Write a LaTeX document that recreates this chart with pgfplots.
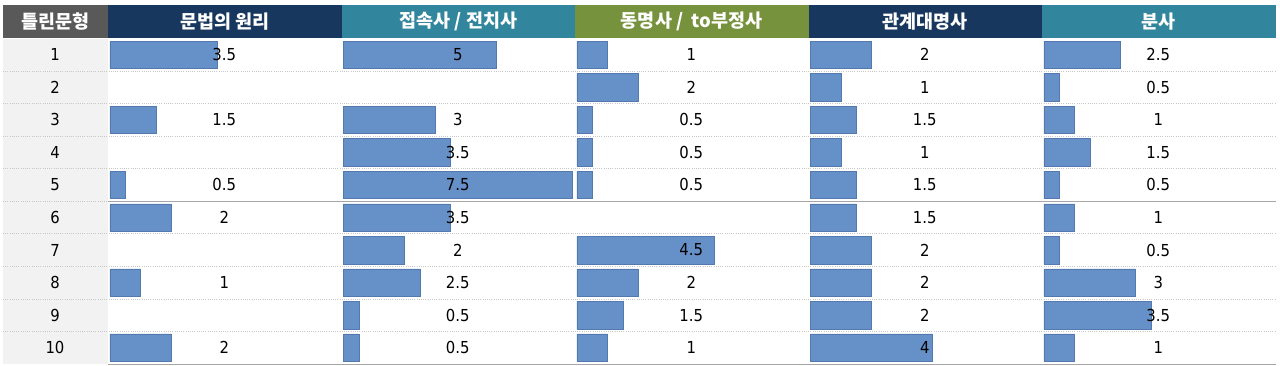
\documentclass[border=0pt]{standalone}
\usepackage{pgfplots}
\pgfplotsset{compat=1.18}
\usepackage{pgfplotstable}
\usepackage{fontspec}
\setmainfont{DejaVu Sans Condensed}
\newfontfamily\kr{Noto Sans CJK KR}
\definecolor{hgrey}{HTML}{595959}
\definecolor{hnavy}{HTML}{17375E}
\definecolor{hteal}{HTML}{31859C}
\definecolor{holive}{HTML}{76923C}
\definecolor{colgrey}{HTML}{F2F2F2}
\definecolor{barblue}{HTML}{6690C8}
\definecolor{bardraw}{HTML}{5379AE}
\definecolor{dotgrey}{HTML}{C8C8C8}
\definecolor{linegrey}{HTML}{A6A6A6}

% one table per column: row number and value (empty cells omitted)
\pgfplotstableread{
row val
1 3.5
3 1.5
5 0.5
6 2
8 1
10 2
}\colA
\pgfplotstableread{
row val
1 5
3 3
4 3.5
5 7.5
6 3.5
7 2
8 2.5
9 0.5
10 0.5
}\colB
\pgfplotstableread{
row val
1 1
2 2
3 0.5
4 0.5
5 0.5
7 4.5
8 2
9 1.5
10 1
}\colC
\pgfplotstableread{
row val
1 2
2 1
3 1.5
4 1
5 1.5
6 1.5
7 2
8 2
9 2
10 4
}\colD
\pgfplotstableread{
row val
1 2.5
2 0.5
3 1
4 1.5
5 0.5
6 1
7 0.5
8 3
9 3.5
10 1
}\colE

\pgfplotsset{
  colax/.style={anchor=north west, width=233.5pt, height=325.5pt, scale only axis,
    xmin=-0.065, xmax=7.58, ymin=0.5, ymax=10.5, y dir=reverse,
    axis line style={draw=none}, xtick=\empty, ytick=\empty, major tick length=0pt,
    clip=false, /pgf/number format/assume math mode=true},
  barsty/.style={xbar, bar width=27.5pt, fill=barblue, draw=bardraw, line width=0.5pt},
  labsty/.style={draw=none, mark=none, nodes near coords, point meta=explicit,
    every node near coord/.append style={anchor=center, text=black, font=\fontsize{16.5}{16.5}\selectfont}},
}
\newcommand{\hdr}[4]{\node[fill=#1, minimum width=#3, minimum height=32.5pt, inner sep=0pt,
  text=white, font=\kr\bfseries\fontsize{18.5}{18.5}\selectfont] at (#2,-21.25pt) {#4};}

\begin{document}
\begin{tikzpicture}
\useasboundingbox (0,0) rectangle (1280pt,-365pt);
% first column background
\fill[colgrey] (3pt,-38.5pt) rectangle (107.5pt,-364pt);
% row separators
\foreach \i in {1,...,9} {
  \pgfmathsetmacro{\yy}{-(38.5+32.55*\i)}
  \draw[dotgrey, line width=0.8pt, dash pattern=on 1pt off 1.2pt] (3pt,\yy pt) -- (1275.5pt,\yy pt);
}
\draw[linegrey, line width=1pt] (108pt,-201.25pt) -- (1275.5pt,-201.25pt);
\draw[linegrey, line width=1pt] (108pt,-364pt) -- (1275.5pt,-364pt);
% headers
\hdr{hgrey}{55.25pt}{104.5pt}{틀린문형}
\hdr{hnavy}{224.75pt}{233.5pt}{문법의 원리}
\hdr{hteal}{458.25pt}{233.5pt}{접속사 / 전치사}
\hdr{holive}{691.75pt}{233.5pt}{동명사 /\ \ to부정사}
\hdr{hnavy}{925.25pt}{233.5pt}{관계대명사}
\hdr{hteal}{1158.75pt}{233.5pt}{분사}

\begin{axis}[colax, at={(108pt,-38.5pt)}, ytick={1,...,10},
  yticklabel style={anchor=center, xshift=-53pt, font=\fontsize{16.5}{16.5}\selectfont}]
\addplot[barsty] table[x=val, y=row]{\colA};
\addplot[labsty] table[x expr=3.741, y=row, meta=val]{\colA};
\end{axis}
\begin{axis}[colax, at={(341.5pt,-38.5pt)}]
\addplot[barsty] table[x=val, y=row]{\colB};
\addplot[labsty] table[x expr=3.741, y=row, meta=val]{\colB};
\end{axis}
\begin{axis}[colax, at={(575pt,-38.5pt)}]
\addplot[barsty] table[x=val, y=row]{\colC};
\addplot[labsty] table[x expr=3.741, y=row, meta=val]{\colC};
\end{axis}
\begin{axis}[colax, at={(808.5pt,-38.5pt)}]
\addplot[barsty] table[x=val, y=row]{\colD};
\addplot[labsty] table[x expr=3.741, y=row, meta=val]{\colD};
\end{axis}
\begin{axis}[colax, at={(1042pt,-38.5pt)}]
\addplot[barsty] table[x=val, y=row]{\colE};
\addplot[labsty] table[x expr=3.741, y=row, meta=val]{\colE};
\end{axis}
\end{tikzpicture}
\end{document}
